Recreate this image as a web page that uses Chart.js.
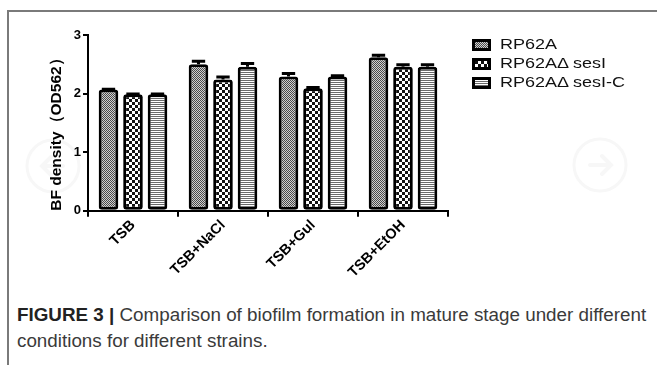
<!DOCTYPE html>
<html>
<head>
<meta charset="utf-8">
<script src="https://cdn.jsdelivr.net/npm/chart.js@4"></script>
<style>
  html, body { margin: 0; padding: 0; background: #fff; }
  body { width: 657px; height: 365px; position: relative; overflow: hidden; font-family: "Liberation Sans", Arial, sans-serif; }
  #frameTop { position: absolute; left: 7px; top: 10px; width: 650px; height: 2px; background: #7a7a7a; }
  #frameLeft { position: absolute; left: 7px; top: 10px; width: 2px; height: 355px; background: #7a7a7a; }
  #chartBox { position: absolute; left: 0; top: 0; width: 657px; height: 290px; }
  #legend { position: absolute; left: 472px; top: 36px; }
  .lg { position: relative; height: 19px; }
  .lg canvas { position: absolute; left: 0; top: 3px; }
  .lg span { position: absolute; left: 28px; top: 0; font-size: 15px; line-height: 16px; color: #111; transform-origin: 0 50%; transform: scaleX(1.2); white-space: nowrap; }
  #caption { position: absolute; left: 17px; top: 302px; font-size: 17.5px; line-height: 26px; color: #3a3a3a; white-space: nowrap; transform-origin: 0 0; transform: scaleX(1.075); }
  #caption b { color: #222; }
  .wm { position: absolute; }
</style>
</head>
<body>
<div id="frameTop"></div>
<div id="frameLeft"></div>
<svg class="wm" style="left:23px;top:136px" width="60" height="60"><circle cx="30" cy="30" r="26" fill="none" stroke="#f7f7f7" stroke-width="3"/><path d="M40 30 H20 M28 21 L19 30 L28 39" fill="none" stroke="#f7f7f7" stroke-width="4" stroke-linecap="round"/></svg>
<svg class="wm" style="left:570px;top:135px" width="60" height="60"><circle cx="30" cy="30" r="26" fill="none" stroke="#f7f7f7" stroke-width="3"/><path d="M20 30 H40 M32 21 L41 30 L32 39" fill="none" stroke="#f7f7f7" stroke-width="4" stroke-linecap="round"/></svg>
<div id="chartBox"><canvas id="c"></canvas></div>
<div id="legend"></div>
<div id="caption"><b>FIGURE 3 |</b> Comparison of biofilm formation in mature stage under different<br>conditions for different strains.</div>
<script>
// ---- data ----
const categories = ['TSB', 'TSB+NaCl', 'TSB+Gul', 'TSB+EtOH'];
const seriesNames = ['RP62A', 'RP62AΔ sesI', 'RP62AΔ sesI-C'];
const rp62a = [2.07, 2.50, 2.29, 2.62];
const rp62aErr = [0.02, 0.07, 0.07, 0.05];
const deltaSesI = [1.99, 2.24, 2.09, 2.46];
const deltaSesIErr = [0.02, 0.06, 0.03, 0.05];
const deltaSesIC = [1.99, 2.46, 2.29, 2.46];
const deltaSesICErr = [0.02, 0.07, 0.03, 0.05];
const yTicks = [0, 1, 2, 3];
const yTitle = 'BF density（OD562）';

// ---- patterns ----
function makePattern(kind) {
  const p = document.createElement('canvas');
  const g = p.getContext('2d');
  if (kind === 0) { // fine dots
    p.width = 2; p.height = 2;
    g.fillStyle = '#d0d0d0'; g.fillRect(0, 0, 2, 2);
    g.fillStyle = '#4a4a4a'; g.fillRect(0, 0, 1, 1); g.fillRect(1, 1, 1, 1);
  } else if (kind === 1) { // checker
    p.width = 6; p.height = 6;
    g.fillStyle = '#fff'; g.fillRect(0, 0, 6, 6);
    g.fillStyle = '#111'; g.fillRect(0, 0, 3, 3); g.fillRect(3, 3, 3, 3);
  } else { // horizontal stripes
    p.width = 4; p.height = 2;
    g.fillStyle = '#fff'; g.fillRect(0, 0, 4, 2);
    g.fillStyle = '#6a6a6a'; g.fillRect(0, 0, 4, 1);
  }
  return document.createElement('canvas').getContext('2d').createPattern(p, 'repeat');
}
const patterns = [makePattern(0), makePattern(1), makePattern(2)];
const values = [rp62a, deltaSesI, deltaSesIC];
const errors = [rp62aErr, deltaSesIErr, deltaSesICErr];

// ---- legend ----
const legend = document.getElementById('legend');
seriesNames.forEach((name, i) => {
  const row = document.createElement('div'); row.className = 'lg';
  const cv = document.createElement('canvas'); cv.width = 19; cv.height = 12;
  const g = cv.getContext('2d');
  g.fillStyle = '#000'; g.fillRect(0, 0, 19, 12);
  g.fillStyle = patterns[i]; g.fillRect(3, 3, 13, 6);
  const sp = document.createElement('span'); sp.textContent = name;
  row.appendChild(cv); row.appendChild(sp); legend.appendChild(row);
});

// ---- error bar plugin ----
const errorBars = {
  id: 'errorBars',
  afterDatasetsDraw(chart) {
    const ctx = chart.ctx, ys = chart.scales.y;
    ctx.save();
    ctx.strokeStyle = '#000'; ctx.lineWidth = 3; ctx.lineCap = 'butt';
    chart.data.datasets.forEach((ds, di) => {
      const meta = chart.getDatasetMeta(di);
      meta.data.forEach((bar, i) => {
        const v = ds.data[i], e = ds.err[i];
        const yTop = ys.getPixelForValue(v + e);
        const yVal = ys.getPixelForValue(v);
        const half = bar.width * 0.34;
        ctx.beginPath();
        ctx.moveTo(bar.x, yVal); ctx.lineTo(bar.x, yTop);
        ctx.moveTo(bar.x - half, yTop + 1); ctx.lineTo(bar.x + half, yTop + 1);
        ctx.stroke();
      });
    });
    ctx.restore();
  }
};

new Chart(document.getElementById('c'), {
  type: 'bar',
  data: {
    labels: categories,
    datasets: seriesNames.map((n, i) => ({
      label: n,
      data: values[i],
      err: errors[i],
      backgroundColor: patterns[i],
      borderColor: '#000',
      borderWidth: 3,
      borderSkipped: false,
      borderRadius: 3,
      categoryPercentage: 0.817,
      barPercentage: 0.8
    }))
  },
  options: {
    responsive: true,
    maintainAspectRatio: false,
    animation: false,
    layout: { padding: { left: 47, right: 209, top: 35, bottom: 0 } },
    plugins: { legend: { display: false }, tooltip: { enabled: false } },
    scales: {
      x: {
        offset: true,
        grid: { drawOnChartArea: false, drawTicks: true, tickLength: 6, color: '#000', lineWidth: 2 },
        border: { color: '#000', width: 2 },
        ticks: { color: '#000', font: { family: 'Liberation Sans, Arial', size: 14.5, weight: 'bold' }, minRotation: 45, maxRotation: 45, padding: 0 },
        afterFit(s) { s.height = 79.3; }
      },
      y: {
        min: 0, max: 3,
        afterBuildTicks(s) { s.ticks = yTicks.map(v => ({ value: v })); },
        grid: { drawOnChartArea: false, drawTicks: true, tickLength: 5, color: '#000', lineWidth: 2 },
        border: { color: '#000', width: 2 },
        ticks: { color: '#000', font: { family: 'Liberation Sans, Arial', size: 13, weight: 'bold' }, padding: 2 },
        title: { display: true, text: yTitle, align: 'start', color: '#000', font: { family: 'Liberation Sans, Arial', size: 15.5, weight: 'bold' }, padding: { top: 0, bottom: 3 } },
        afterFit(s) { s.width = 41; }
      }
    }
  },
  plugins: [errorBars]
});
</script>
</body>
</html>
